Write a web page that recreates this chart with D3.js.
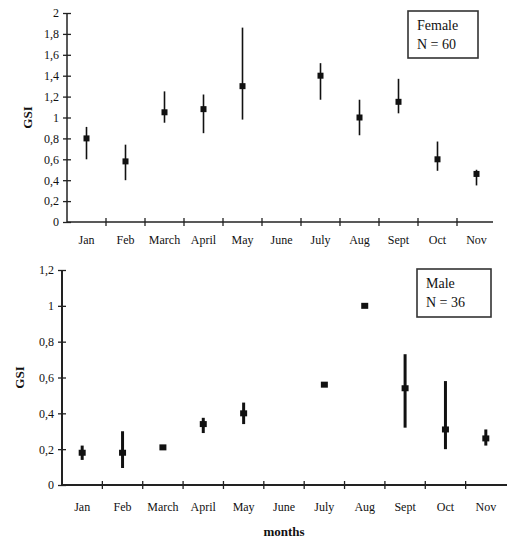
<!DOCTYPE html>
<html>
<head>
<meta charset="utf-8">
<script src="https://cdn.jsdelivr.net/npm/d3@7"></script>
<style>
  body { margin: 0; background: #fff; }
  svg { display: block; font-family: "Liberation Serif", "DejaVu Serif", serif; }
</style>
</head>
<body>
<svg width="507" height="538"></svg>
<script>
const months = ['Jan', 'Feb', 'March', 'April', 'May', 'June', 'July', 'Aug', 'Sept', 'Oct', 'Nov'];

// female GSI: mean, lower and upper end of the bar (null = no sample)
const femaleMean = [0.80, 0.58, 1.05, 1.08, 1.30, null, 1.40, 1.00, 1.15, 0.60, 0.46];
const femaleLow  = [0.60, 0.40, 0.95, 0.85, 0.98, null, 1.17, 0.83, 1.04, 0.49, 0.35];
const femaleHigh = [0.91, 0.74, 1.25, 1.22, 1.86, null, 1.52, 1.17, 1.37, 0.77, 0.50];

const maleMean = [0.18, 0.18, 0.21, 0.34, 0.40, null, 0.56, 1.00, 0.54, 0.31, 0.26];
const maleLow  = [0.14, 0.095, 0.21, 0.29, 0.34, null, 0.56, 1.00, 0.32, 0.20, 0.22];
const maleHigh = [0.22, 0.30, 0.21, 0.375, 0.46, null, 0.56, 1.00, 0.73, 0.58, 0.31];

const femaleTicks = [0, 0.2, 0.4, 0.6, 0.8, 1, 1.2, 1.4, 1.6, 1.8, 2];
const maleTicks = [0, 0.2, 0.4, 0.6, 0.8, 1, 1.2];

const svg = d3.select('svg');
const fmt = d => String(d).replace('.', ',');

function panel(opts) {
  const x = d3.scaleBand().domain(months).range([opts.left, opts.right]);
  const y = d3.scaleLinear().domain([0, opts.ymax]).range([opts.bottom, opts.top]);
  const g = svg.append('g');

  // y axis
  const ya = g.append('g')
    .attr('transform', `translate(${opts.left},0)`)
    .call(d3.axisLeft(y).tickValues(opts.ticks).tickFormat(fmt).tickSize(4).tickPadding(4));
  ya.select('.domain').attr('d', `M0,${opts.bottom}V${opts.top}`)
    .attr('stroke', '#222').attr('stroke-width', opts.axisW);
  ya.selectAll('.tick line').attr('x1', 4).attr('stroke', '#222').attr('stroke-width', 1.3);
  ya.selectAll('.tick text')
    .attr('font-family', '"Liberation Serif", serif').attr('font-size', 12).attr('fill', '#111');

  // x axis line and ticks at the boundaries between months
  g.append('line')
    .attr('x1', opts.left).attr('x2', opts.axisEnd)
    .attr('y1', opts.bottom).attr('y2', opts.bottom)
    .attr('stroke', '#222').attr('stroke-width', opts.axisW);
  g.selectAll('.xt').data(opts.xTickMonths)
    .join('line')
    .attr('x1', d => x(d)).attr('x2', d => x(d))
    .attr('y1', opts.bottom - 4).attr('y2', opts.bottom + 4)
    .attr('stroke', '#222').attr('stroke-width', 1.3);
  g.selectAll('.xl').data(months)
    .join('text')
    .attr('x', d => x(d) + x.bandwidth() / 2)
    .attr('y', opts.labelY)
    .attr('text-anchor', 'middle')
    .attr('font-size', 12).attr('fill', '#111')
    .text(d => d);

  // error bars and means
  const pts = months.map((m, i) => ({ m, mean: opts.mean[i], lo: opts.low[i], hi: opts.high[i] }))
    .filter(d => d.mean !== null);
  g.selectAll('.eb').data(pts.filter(d => d.hi > d.lo))
    .join('line')
    .attr('x1', d => x(d.m) + x.bandwidth() / 2 + opts.dx)
    .attr('x2', d => x(d.m) + x.bandwidth() / 2 + opts.dx)
    .attr('y1', d => y(d.lo)).attr('y2', d => y(d.hi))
    .attr('stroke', '#111').attr('stroke-width', opts.barW);
  g.selectAll('.pt').data(pts)
    .join('rect')
    .attr('x', d => x(d.m) + x.bandwidth() / 2 + opts.dx - opts.mw / 2)
    .attr('y', d => y(d.mean) - opts.mh / 2)
    .attr('width', opts.mw).attr('height', opts.mh)
    .attr('fill', '#111');

  // y label
  g.append('text')
    .attr('transform', `translate(${opts.gsiX},${(opts.top + opts.bottom) / 2}) rotate(-90)`)
    .attr('text-anchor', 'middle')
    .attr('font-weight', 'bold').attr('font-size', 13).attr('fill', '#111')
    .text('GSI');

  // legend box
  const b = opts.box;
  g.append('rect')
    .attr('x', b[0]).attr('y', b[1]).attr('width', b[2]).attr('height', b[3])
    .attr('fill', 'none').attr('stroke', '#333').attr('stroke-width', 1.6);
  opts.boxText.forEach((t, i) => {
    g.append('text')
      .attr('x', b[0] + 9).attr('y', b[1] + 19 + i * 19)
      .attr('font-size', 14).attr('fill', '#111')
      .text(t);
  });
  return { x, y };
}

panel({
  left: 67, right: 496, axisEnd: 493, top: 13, bottom: 222, ymax: 2,
  ticks: femaleTicks, mean: femaleMean, low: femaleLow, high: femaleHigh,
  xTickMonths: months.slice(1), labelY: 244, axisW: 1.5, barW: 1.6,
  mw: 6, mh: 6, dx: 0, gsiX: 32,
  box: [408, 11, 70, 47], boxText: ['Female', 'N = 60']
});

panel({
  left: 62, right: 506, axisEnd: 507, top: 270, bottom: 485, ymax: 1.2,
  ticks: maleTicks, mean: maleMean, low: maleLow, high: maleHigh,
  xTickMonths: months.slice(1), labelY: 511, axisW: 2, barW: 3,
  mw: 7, mh: 6, dx: 0, gsiX: 24,
  box: [417, 269, 74, 48], boxText: ['Male', 'N = 36']
});

svg.append('text')
  .attr('x', 284).attr('y', 536)
  .attr('text-anchor', 'middle')
  .attr('font-weight', 'bold').attr('font-size', 13).attr('fill', '#111')
  .text('months');
</script>
</body>
</html>
